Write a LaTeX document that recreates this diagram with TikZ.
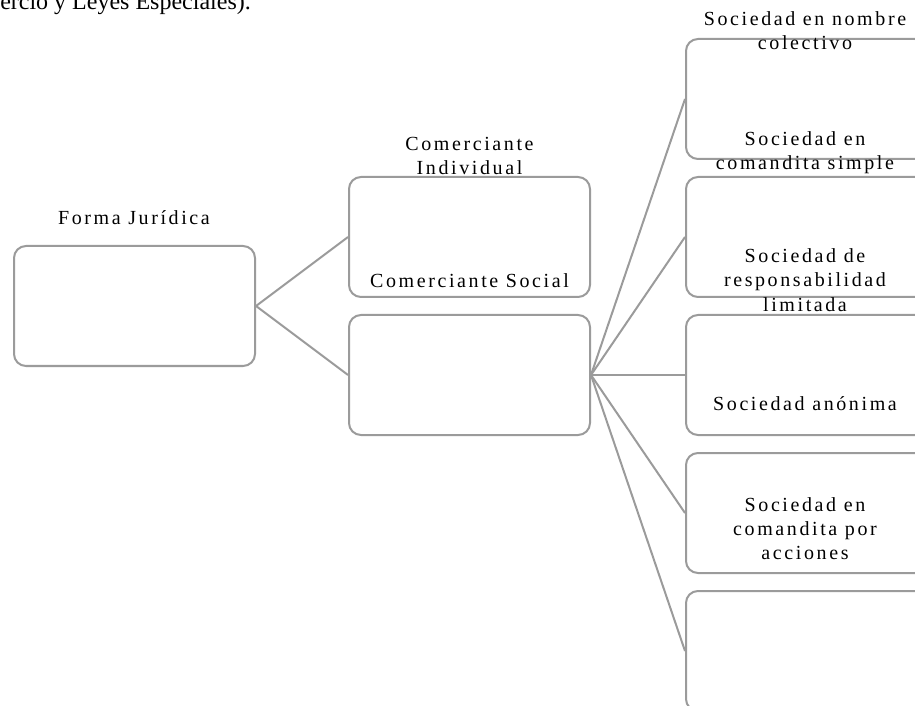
\documentclass[tikz,border=0pt]{standalone}
\usepackage{fontspec}
\setmainfont{Liberation Serif}
\newfontfamily\smartfont[LetterSpace=13]{Liberation Serif}
\definecolor{boxgray}{RGB}{155,155,155}
\begin{document}
\begin{tikzpicture}[x=0.75pt,y=-0.75pt,
  box/.style={draw=boxgray,line width=1.5pt,rounded corners=9pt,minimum width=180.75pt,minimum height=90pt,inner sep=0pt},
  lbl/.style={font=\smartfont\fontsize{15}{18}\selectfont,align=center,inner sep=0pt,anchor=base},
  link/.style={draw=boxgray,line width=1.5pt}]
\useasboundingbox (0,0) rectangle (915,706);
\coordinate[] (R) at (134.5,306);
\coordinate[] (CI) at (469.5,237);
\coordinate[] (CS) at (469.5,375);
\coordinate[] (S1) at (806.5,99);
\coordinate[] (S2) at (806.5,237);
\coordinate[] (S3) at (806.5,375);
\coordinate[] (S4) at (806.5,513);
\coordinate[] (S5) at (806.5,651);
\node[box] (root) at (R) {};
\node[box] (indiv) at (CI) {};
\node[box] (social) at (CS) {};
\node[box] (snc) at (S1) {};
\node[box] (scs) at (S2) {};
\node[box] (srl) at (S3) {};
\node[box] (sa) at (S4) {};
\node[box] (sca) at (S5) {};
\draw[link] (root.east)--(indiv.west);
\draw[link] (root.east)--(social.west);
\foreach \s in {snc,scs,srl,sa,sca}
	\draw[link] (social.east)--(\s.west);
% texts sit off their boxes, as in the source
\node[anchor=base west,inner sep=0pt,font=\fontsize{18}{21}\selectfont] (prev) at (0,10) {ercio y Leyes Especiales).};
\node[lbl] (tR) at (134,225) {Forma Jurídica};
\node[lbl] (tCI) at (469.5,175) {Comerciante\\Individual};
\node[lbl] (tCS) at (469.5,288) {Comerciante Social};
\node[lbl] (tS1) at (805,50) {Sociedad en nombre\\colectivo};
\node[lbl] (tS2) at (805,170) {Sociedad en\\comandita simple};
\node[lbl] (tS3) at (805,311) {Sociedad de\\responsabilidad\\limitada};
\node[lbl] (tS4) at (805,411) {Sociedad anónima};
\node[lbl] (tS5) at (805,559) {Sociedad en\\comandita por\\acciones};
\end{tikzpicture}
\end{document}
